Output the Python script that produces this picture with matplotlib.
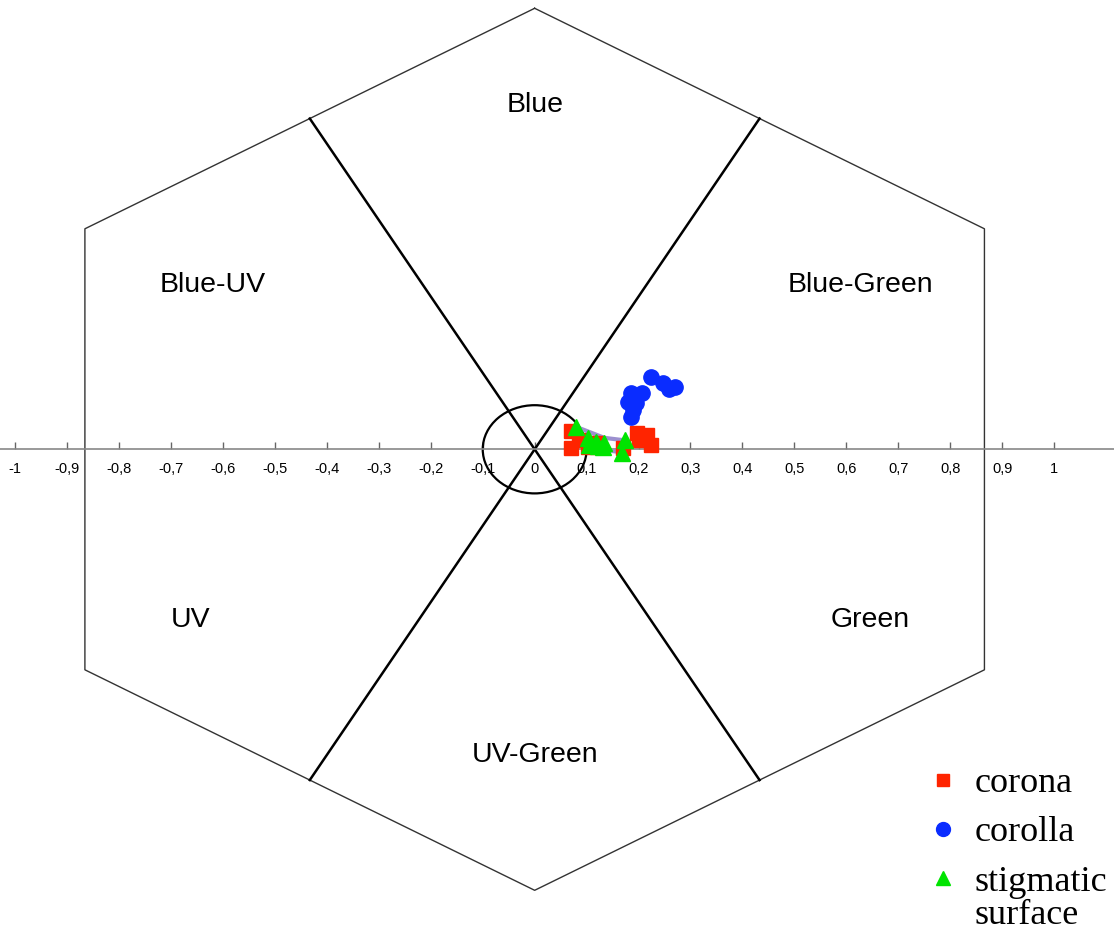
import numpy as np
import matplotlib
matplotlib.use("Agg")
import matplotlib.pyplot as plt
from matplotlib.lines import Line2D
from matplotlib.patches import Ellipse
from matplotlib.ticker import FuncFormatter

# Colour hexagon loci (x, y in hexagon units)
corona_x = [0.070, 0.086, 0.070, 0.102, 0.120, 0.170, 0.198, 0.217, 0.201, 0.224]
corona_y = [0.042, 0.021, 0.002, 0.006, 0.014, 0.002, 0.036, 0.032, 0.021, 0.010]

corolla_x = [0.224, 0.247, 0.259, 0.270, 0.185, 0.206, 0.179, 0.195, 0.190, 0.185]
corolla_y = [0.165, 0.150, 0.136, 0.141, 0.128, 0.127, 0.108, 0.104, 0.089, 0.074]

stigma_x = [0.079, 0.102, 0.118, 0.134, 0.105, 0.121, 0.131, 0.173, 0.168]
stigma_y = [0.051, 0.025, 0.017, 0.014, 0.010, 0.007, 0.005, 0.021, -0.009]

# Connecting trace between stigmatic surface loci
trace_upper_x = [0.079, 0.095, 0.108, 0.134, 0.169]
trace_upper_y = [0.051, 0.044, 0.038, 0.026, 0.021]
trace_lower_x = [0.127, 0.150, 0.169]
trace_lower_y = [0.002, -0.004, -0.007]

sector_names = ["Blue", "Blue-Green", "Green", "UV-Green", "UV", "Blue-UV"]
sector_x = [0.0, 0.627, 0.646, 0.0, -0.663, -0.620]
sector_y = [0.780, 0.373, -0.388, -0.694, -0.388, 0.373]

tick_values = np.round(np.arange(-1.0, 1.01, 0.1), 1)

fig = plt.figure(figsize=(11.14, 9.30), dpi=100)
ax = fig.add_axes([0, 0, 1, 1])
ax.set_xlim(-1.0295, 1.1155)
ax.set_ylim(-1.090, 1.0188)

# Hexagon outline
ang = np.deg2rad(np.arange(90, 451, 60))
ax.plot(np.cos(ang), np.sin(ang), color="#333333", lw=1.0, zorder=2)

# Sector boundaries through the centre, joining opposite edge midpoints
r_mid = np.cos(np.deg2rad(30))
for t in np.deg2rad([120, 60]):
    ax.plot([r_mid * np.cos(t), -r_mid * np.cos(t)],
            [r_mid * np.sin(t), -r_mid * np.sin(t)],
            color="black", lw=1.8, zorder=2)

# Discrimination threshold circle
ax.add_patch(Ellipse((0, 0), 0.2, 0.2, fill=False, edgecolor="black", lw=1.6, zorder=2))

for name, x, y in zip(sector_names, sector_x, sector_y):
    ax.text(x, y, name, ha="center", va="center", fontsize=20.5,
            family="Liberation Sans", color="black")

# Axis line with ticks
for s in ("top", "left", "right"):
    ax.spines[s].set_visible(False)
ax.spines["bottom"].set_position(("data", 0))
ax.spines["bottom"].set_color("#888888")
ax.spines["bottom"].set_linewidth(1.2)
ax.spines["bottom"].set_bounds(-1.0295, 1.1155)
ax.set_yticks([])
ax.set_xticks(tick_values)


def comma_label(v, pos):
    if abs(v) < 1e-9:
        return "0"
    if abs(abs(v) - 1) < 1e-9:
        return f"{v:.0f}"
    return f"{v:.1f}".replace(".", ",")


ax.xaxis.set_major_formatter(FuncFormatter(comma_label))
ax.tick_params(axis="x", direction="in", length=5, width=1, color="#666666",
               labelsize=10.5, pad=9)
for lab in ax.get_xticklabels():
    lab.set_family("Liberation Sans")

ax.plot(trace_upper_x, trace_upper_y, color="#9c90cf", lw=3, zorder=3, solid_capstyle="round")
ax.plot(trace_lower_x, trace_lower_y, color="#9c90cf", lw=3, zorder=3, solid_capstyle="round")

ax.plot(corona_x, corona_y, ls="none", marker="s", ms=10, color="#ff2400", zorder=4)
ax.plot(corolla_x, corolla_y, ls="none", marker="o", ms=11, color="#0a2cff", zorder=4)
ax.plot(stigma_x, stigma_y, ls="none", marker="^", ms=11, color="#00e400", zorder=5)

handles = [
    Line2D([], [], ls="none", marker="s", ms=9, color="#ff2400"),
    Line2D([], [], ls="none", marker="o", ms=10, color="#0a2cff"),
    Line2D([], [], ls="none", marker="^", ms=10, color="#00e400"),
]
legend_font = {"family": "Liberation Serif", "size": 26}
leg = ax.legend(handles, ["corona", "corolla", "stigmatic"],
                loc="upper left", bbox_to_anchor=(925 / 1114, 1 - 767 / 930),
                frameon=False, prop=legend_font,
                handlelength=1.0, handletextpad=0.38, labelspacing=0.44,
                borderaxespad=0, borderpad=0)

# Second line of the last legend label, set just under "stigmatic"
fig.canvas.draw()
last = leg.get_texts()[-1]
bb = last.get_window_extent()
ax.text(bb.x0, bb.y0 - 33, "surface", transform=None, ha="left", va="bottom",
        fontfamily="Liberation Serif", fontsize=26)

fig.savefig("out.png", dpi=100, facecolor="white")
